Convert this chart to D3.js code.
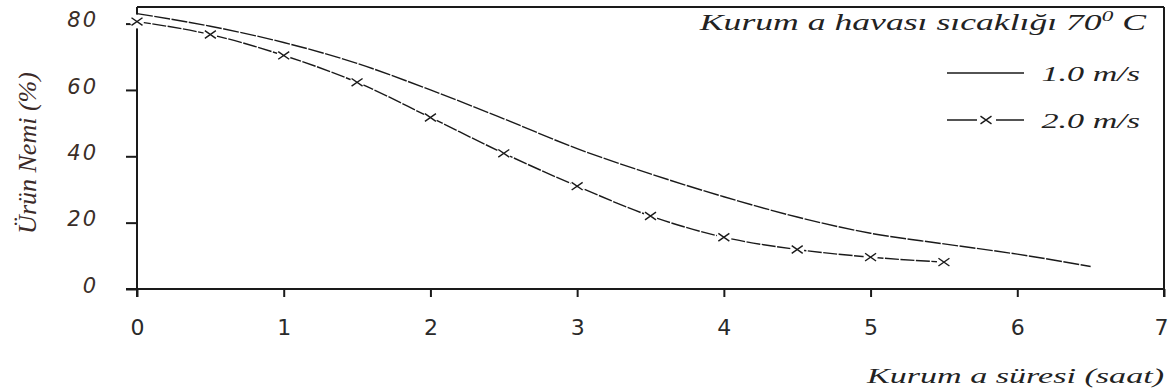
<!DOCTYPE html>
<html>
<head>
<meta charset="utf-8">
<script src="https://cdn.jsdelivr.net/npm/d3@7"></script>
<style>
  html, body { margin: 0; padding: 0; background: #fff; }
  svg { display: block; }
</style>
</head>
<body>
<svg id="chart" width="1168" height="390"></svg>
<script>
// ---- data ----
const timeHours = [0, 0.5, 1, 1.5, 2, 2.5, 3, 3.5, 4, 4.5, 5, 5.5, 6, 6.5];
const moisture10 = [83, 79.2, 74.3, 68, 60, 51.3, 42.3, 34.7, 27.8, 21.7, 16.8, 13.6, 10.5, 6.8];
const timeHours20 = [0, 0.5, 1, 1.5, 2, 2.5, 3, 3.5, 4, 4.5, 5, 5.5];
const moisture20 = [80.6, 76.7, 70.4, 62.3, 51.7, 40.9, 31.0, 22.0, 15.6, 11.9, 9.6, 8.1];
const xTicks = [0, 1, 2, 3, 4, 5, 6, 7];
const yTicks = [0, 20, 40, 60, 80];
const seriesLabels = ["1.0 m/s", "2.0 m/s"];
const legendTitle = "Kurum a havası sıcaklığı 70";
const xTitle = "Kurum a süresi (saat)";
const yTitle = "Ürün Nemi (%)";

// ---- layout ----
const svg = d3.select("#chart");
const mLeft = 137, mRight = 1164, mTop = 7, mBottom = 289;
const x = d3.scaleLinear().domain([0, 7]).range([mLeft, mRight]);
const y = d3.scaleLinear().domain([0, 85]).range([mBottom, mTop]);
const ink = "#1a1a1a";
const stretch = 1.55; // the reference's serif texts are widened horizontally

// frame (top and right)
svg.append("line").attr("x1", mLeft).attr("x2", mRight).attr("y1", mTop).attr("y2", mTop)
  .attr("stroke", ink).attr("stroke-width", 2);
svg.append("line").attr("x1", mRight).attr("x2", mRight).attr("y1", mTop).attr("y2", mBottom + 8)
  .attr("stroke", ink).attr("stroke-width", 2);

// x axis
const xAxis = svg.append("g").attr("transform", `translate(0,${mBottom})`)
  .call(d3.axisBottom(x).tickValues(xTicks).tickSize(8).tickPadding(22).tickFormat(d3.format("d")));
xAxis.select(".domain").attr("stroke", ink).attr("stroke-width", 2)
  .attr("d", `M${mLeft - 11},0H${mRight}`);
xAxis.selectAll(".tick line").attr("stroke", ink).attr("stroke-width", 2);
xAxis.selectAll(".tick text").attr("fill", "#2a2a2a")
  .style("font-family", "'DejaVu Sans', sans-serif").style("font-size", "22px");
xAxis.selectAll(".tick text").filter(d => d === 7).attr("text-anchor", "end").attr("x", 4);

// y axis
const yAxis = svg.append("g").attr("transform", `translate(${mLeft},0)`)
  .call(d3.axisLeft(y).tickValues(yTicks).tickSize(11).tickPadding(28).tickFormat(d3.format("d")));
yAxis.select(".domain").attr("stroke", ink).attr("stroke-width", 2)
  .attr("d", `M0,${mTop}V${mBottom + 8}`);
yAxis.selectAll(".tick line").attr("stroke", ink).attr("stroke-width", 2);
yAxis.selectAll(".tick text").attr("fill", "#3a2e28").attr("dy", "0.15em")
  .style("font-family", "'DejaVu Sans', sans-serif").style("font-style", "italic")
  .style("font-size", "21px").style("letter-spacing", "2px");

// axis titles
svg.append("text").attr("transform", `translate(1164,383) scale(${stretch},1)`).attr("text-anchor", "end")
  .attr("fill", "#222").style("font-family", "'Liberation Serif', serif")
  .style("font-style", "italic").style("font-size", "22px").text(xTitle);
svg.append("text").attr("transform", `translate(36,153) rotate(-90)`)
  .attr("text-anchor", "middle").attr("fill", "#3b2a28")
  .style("font-family", "'Liberation Serif', serif").style("font-style", "italic")
  .style("font-size", "26px").text(yTitle);

// series 2.0 m/s
const pts20 = timeHours20.map((t, i) => [t, moisture20[i]]);
const pts10 = timeHours.map((t, i) => [t, moisture10[i]]);
const line = d3.line().x(d => x(d[0])).y(d => y(d[1])).curve(d3.curveMonotoneX);

svg.append("path").datum(pts20).attr("d", line).attr("fill", "none")
  .attr("stroke", ink).attr("stroke-width", 1.4).attr("stroke-dasharray", "14,1.5");
svg.selectAll("circle.gap").data(pts20).join("circle").attr("class", "gap")
  .attr("cx", d => x(d[0])).attr("cy", d => y(d[1])).attr("r", 7).attr("fill", "#fff");
const cross = (g, cx, cy, s) => {
  g.append("path").attr("d", `M${cx - s},${cy - s * 0.7}L${cx + s},${cy + s * 0.7}M${cx - s},${cy + s * 0.7}L${cx + s},${cy - s * 0.7}`)
    .attr("stroke", ink).attr("stroke-width", 1.4).attr("fill", "none");
};
const mk = svg.append("g");
pts20.forEach(d => cross(mk, x(d[0]), y(d[1]), 5.5));

// series 1.0 m/s
svg.append("path").datum(pts10).attr("d", line).attr("fill", "none")
  .attr("stroke", ink).attr("stroke-width", 1.4).attr("stroke-dasharray", "16,1.5");

// legend
svg.append("text").attr("transform", `translate(1146,30) scale(${stretch},1)`).attr("text-anchor", "end")
  .attr("fill", "#222").style("font-family", "'Liberation Serif', serif")
  .style("font-style", "italic").style("font-size", "23px")
  .call(t => {
    t.append("tspan").text(legendTitle);
    t.append("tspan").attr("dy", -9).style("font-size", "15px").text("0");
    t.append("tspan").attr("dy", 9).text(" C");
  });
const legY = [73, 120];
svg.append("line").attr("x1", 947).attr("x2", 1024).attr("y1", legY[0]).attr("y2", legY[0])
  .attr("stroke", ink).attr("stroke-width", 1.5);
svg.append("line").attr("x1", 947).attr("x2", 977).attr("y1", legY[1]).attr("y2", legY[1])
  .attr("stroke", ink).attr("stroke-width", 1.5);
svg.append("line").attr("x1", 996).attr("x2", 1024).attr("y1", legY[1]).attr("y2", legY[1])
  .attr("stroke", ink).attr("stroke-width", 1.5);
cross(svg.append("g"), 986, legY[1], 5.5);
seriesLabels.forEach((s, i) => {
  svg.append("text").attr("transform", `translate(1140,${legY[i] + 8}) scale(${stretch},1)`)
    .attr("text-anchor", "end")
    .attr("fill", "#222").style("font-family", "'Liberation Serif', serif")
    .style("font-style", "italic").style("font-size", "22px")
    .text(s);
});
</script>
</body>
</html>
